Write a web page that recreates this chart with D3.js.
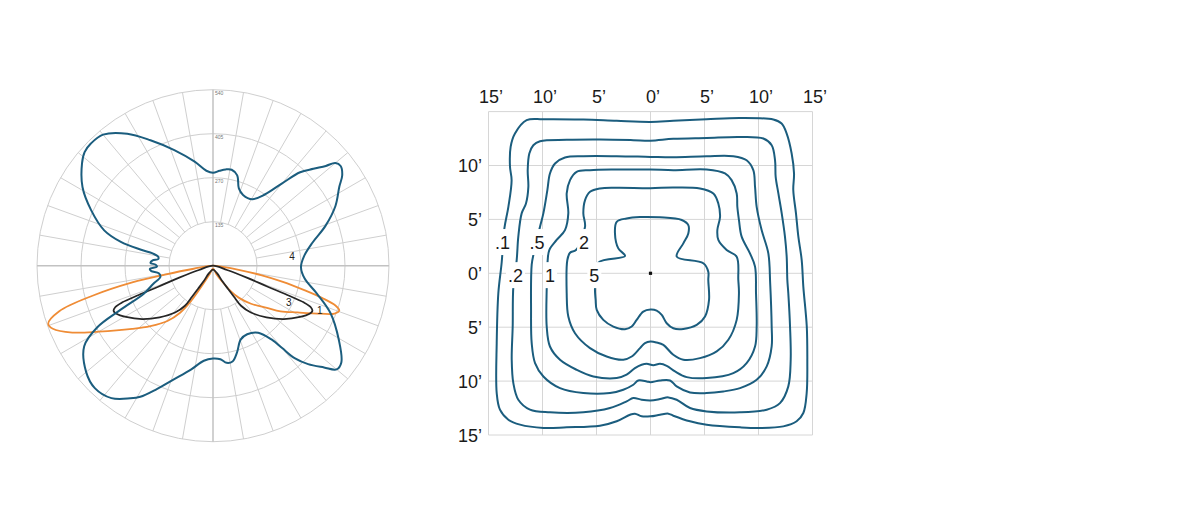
<!DOCTYPE html>
<html><head><meta charset="utf-8">
<script src="https://cdn.jsdelivr.net/npm/d3@7"></script>
<style>html,body{margin:0;padding:0;background:#fff;} svg{display:block;}</style>
</head><body>
<svg id="chart" width="1200" height="532"></svg>
<script>
// ---------- Polar (photometric) data: [angle in degrees clockwise from top, value] ----------
const polarRingValues = [135, 270, 405, 540];
const polarRingLabels = ["135", "270", "405", "540"];
const polarMax = 540;

const curve4 = [ // blue
  [0,285],[4,292],[7.5,298],[11,300],[15,287],[18.5,250],[23,236],[30.5,237],[36,270],[40,330],
  [43,392],[46,428],[48.5,462],[50,490],[52,497],[55,484],[58,457],[64,418],[70.5,366],[77,313],
  [84,281],[91,270],[98,284],[105,330],[112,389],[120.5,448],[127,493],[130,495],[132.5,462],
  [136,420],[138.5,380],[140,330],[141.5,290],[146,248],[153.5,235],[159.5,242],[164.5,276],
  [168.5,300],[172,301],[175.5,288],[180,285],[185.5,293],[192,326],[199,369],[204.5,416],
  [209,460],[212,480],[217.5,512],[224,522],[230,508],[238,466],[242,402],[244.5,315],[248,229],
  [253,192],[258,165],[262,168],[265,190],[267,194],[269,172],[271,176],[272.5,192],[275,186],
  [277,169],[279.5,171],[281.5,189],[282.5,226],[284.5,292],[288,351],[294.5,411],[301,467],
  [308,510],[311.5,526],[315,530],[320,525],[327,483],[333.5,430],[341.5,374],[350,324],[356,292]
];
const curve3 = [ // black
  [0,0],[107,45],[109.5,110],[111,180],[111.5,245],[112,300],[113,326],[114.5,335],[116.5,331],
  [120.5,310],[127,272],[134,228],[141,185],[145,150],[146,115],[147,85],[149,56],[152,26],[180,12],
  [208,26],[211,56],[213,85],[214,115],[215,150],[219,185],[226,228],[233,272],[239.5,310],
  [243.5,331],[245.5,335],[247,326],[248,300],[248.5,245],[249,180],[250.5,110],[253,45]
];
const curve1 = [ // orange
  [0,0],[97,30],[99,80],[101,150],[103,220],[105,290],[106.5,350],[108,395],[109.5,411],[111.5,401],
  [114,362],[119,296],[124,250],[128,210],[135,165],[141,127],[145,96],[150,57],[158,28],[180,9],
  [202,28],[207,53],[210,89],[212,130],[215,176],[219.5,220],[226,267],[232,315],[240,405],
  [244.6,478],[248.5,528],[250.6,536],[253.5,492],[256,381],[258.3,253],[259.5,150],[261,60]
];
const curveNames = ["4", "3", "1"];
const curveNameAt = [[83,244],[115.6,258],[112.5,355]];

// ---------- Isolux data: [x ft, y ft] ----------
const isoTicks = [-15, -10, -5, 0, 5, 10, 15];
const isoTickLabels = ["15\u2019","10\u2019","5\u2019","0\u2019","5\u2019","10\u2019","15\u2019"];
const isoLevels = [".1", ".2", ".5", "1", "2", "5"];
const isoLabelAt = [[-13.7,2.9],[-12.5,-0.17],[-10.5,2.9],[-9.3,-0.17],[-6.15,2.9],[-5.2,-0.17]];

const iso01 = [[-13.78,1.0],[-13.53,4.17],[-13.16,6.17],[-12.86,8.64],[-13.01,9.88],[-12.95,11.73],[-12.55,12.96],[-11.47,14.2],[-9.92,14.29],[-6.22,14.26],[-3.13,14.14],[0,14.04],[2.11,14.14],[5.2,14.29],[8.29,14.41],[11.37,14.26],[12.14,13.89],[12.61,12.96],[13.07,11.11],[13.29,9.26],[13.22,7.72],[13.47,5.56],[13.69,3.4],[14.0,1.23],[14.15,-1.23],[14.47,-4.94],[14.52,-8.02],[14.46,-11.11],[14.15,-12.96],[13.53,-13.73],[12.3,-14.2],[10.14,-14.35],[8.29,-14.29],[5.2,-14.04],[3.66,-13.73],[2.11,-13.21],[1.65,-13.02],[0.88,-13.12],[0,-13.27],[-0.82,-13.27],[-1.44,-13.02],[-1.9,-13.12],[-3.13,-13.73],[-4.68,-14.14],[-7.76,-14.29],[-9.92,-14.35],[-12.08,-14.04],[-13.16,-13.58],[-13.94,-12.65],[-14.24,-11.11],[-14.24,-6.48],[-14.09,-1.85]];
const iso02 = [[-12.39,1.23],[-12.24,3.4],[-11.93,5.56],[-11.53,6.48],[-11.31,8.02],[-11.37,9.57],[-11.22,11.11],[-10.85,11.88],[-10.23,12.25],[-7.76,12.38],[-4.68,12.41],[-1.59,12.35],[0,12.3],[2.11,12.47],[5.2,12.56],[8.29,12.65],[10.45,12.5],[11.22,11.88],[11.53,10.49],[11.59,8.95],[11.84,7.41],[12.15,5.56],[12.45,3.4],[12.61,1.54],[12.67,-0.62],[12.76,-1.85],[12.92,-4.94],[12.98,-8.02],[12.76,-10.49],[11.99,-12.04],[10.76,-12.65],[8.29,-12.9],[5.2,-12.81],[3.66,-12.5],[2.42,-11.73],[1.65,-11.51],[0.88,-11.67],[0,-11.8],[-0.82,-11.73],[-1.59,-11.57],[-2.21,-11.88],[-3.75,-12.5],[-6.22,-12.9],[-9.31,-12.9],[-11.16,-12.65],[-12.24,-11.73],[-12.7,-10.19],[-12.85,-8.02],[-12.76,-4.94],[-12.7,-1.23]];
const iso05 = [[-10.8,1.9],[-10.23,4.32],[-9.92,5.56],[-9.55,7.72],[-9.31,9.26],[-8.84,10.19],[-7.92,10.74],[-6.22,10.86],[-3.13,10.86],[0,10.8],[2.11,10.77],[5.2,10.86],[7.67,10.86],[8.9,10.49],[9.52,9.57],[9.68,8.02],[9.83,6.17],[10.29,4.01],[10.91,1.85],[11.08,-0.9],[11.22,-4.94],[11.22,-6.79],[10.76,-8.64],[9.83,-9.88],[8.29,-10.65],[6.74,-10.96],[5.2,-11.11],[3.66,-11.05],[2.42,-10.49],[1.81,-9.94],[0.88,-9.94],[0,-10.1],[-0.35,-10.03],[-1.13,-9.94],[-1.59,-10.34],[-2.52,-10.8],[-3.75,-11.11],[-6.22,-11.11],[-8.38,-10.65],[-9.92,-9.57],[-10.69,-8.33],[-11.0,-6.48],[-11.06,-3.4],[-11.0,0.8]];
const iso1 = [[-9.52,1.23],[-9.37,2.16],[-8.69,3.09],[-7.92,4.01],[-7.61,5.56],[-7.76,7.41],[-7.45,8.64],[-6.84,9.41],[-5.6,9.57],[-3.13,9.63],[0,9.63],[2.11,9.57],[5.2,9.63],[6.9,9.26],[7.51,8.64],[7.98,7.41],[8.04,6.17],[8.19,4.94],[8.44,3.4],[9.21,1.85],[9.68,0.62],[9.77,-1.85],[9.83,-4.94],[9.68,-6.79],[8.9,-8.33],[7.67,-9.26],[5.2,-9.72],[3.35,-9.63],[2.27,-9.1],[1.5,-8.58],[0.88,-8.4],[0.26,-8.52],[-0.35,-8.4],[-0.82,-8.49],[-1.44,-8.8],[-2.21,-9.41],[-3.13,-9.72],[-5.29,-9.57],[-6.84,-8.95],[-8.38,-8.02],[-9.31,-6.79],[-9.61,-4.94],[-9.61,-1.39]];
const iso2 = [[-6.9,2.16],[-6.06,4.32],[-6.22,5.56],[-6.06,6.79],[-5.6,7.56],[-4.68,7.87],[-3.13,7.93],[0,7.9],[2.11,7.96],[4.58,7.87],[5.82,7.41],[6.28,6.48],[6.44,5.25],[6.19,4.01],[6.28,3.09],[7.05,2.16],[7.98,1.54],[8.13,-0.62],[8.19,-1.85],[7.98,-4.32],[7.21,-6.17],[6.13,-7.25],[4.58,-7.87],[3.04,-8.02],[2.11,-7.56],[1.19,-6.64],[0.57,-6.42],[0,-6.33],[-0.51,-6.48],[-0.97,-6.94],[-1.74,-7.72],[-2.52,-8.02],[-4.06,-7.72],[-5.6,-6.94],[-6.99,-5.56],[-7.61,-4.01],[-7.76,-1.85],[-7.7,1.23],[-7.45,1.91]];
const iso5 = [[-4.83,0.99],[-2.36,1.6],[-2.98,2.31],[-3.29,3.7],[-3.13,4.78],[-2.21,5.09],[-0.97,5.22],[0.88,5.19],[2.89,4.94],[3.5,4.47],[3.5,3.7],[3.04,2.78],[2.43,1.54],[4.89,0.93],[5.35,0.15],[5.35,-0.62],[5.42,-2.47],[5.05,-4.01],[4.28,-4.79],[3.04,-5.16],[2.11,-5.1],[1.5,-4.63],[1.04,-3.86],[0.57,-3.46],[0,-3.36],[-0.67,-3.55],[-1.28,-4.32],[-1.74,-4.94],[-2.36,-5.19],[-3.44,-4.94],[-4.37,-4.32],[-4.98,-3.4],[-5.08,-2.47],[-5.14,-1.39]];
const isoContours = [iso01, iso02, iso05, iso1, iso2, iso5];

// ---------- Drawing ----------
const svg = d3.select("#chart");
const FONT = "'Liberation Sans', Arial, Helvetica, sans-serif";
const BLUE = "#1b5d7e", ORANGE = "#ef8c36", BLACK = "#262626", GRID = "#cfcfcf";
const toRad = d => d * Math.PI / 180;

// Polar
const pc = {x: 213, y: 265.7};
const rScale = d3.scaleLinear().domain([0, polarMax]).range([0, 176]);
const gp = svg.append("g").attr("transform", `translate(${pc.x},${pc.y})`);

gp.selectAll("circle.ring").data(polarRingValues).join("circle")
  .attr("r", d => rScale(d)).attr("fill", "none").attr("stroke", GRID).attr("stroke-width", 1);

const spokes = d3.range(0, 360, 10);
gp.selectAll("line.spoke").data(spokes).join("line")
  .attr("x1", d => (d % 90 === 0 ? 0 : rScale(135)) * Math.sin(toRad(d)))
  .attr("y1", d => -(d % 90 === 0 ? 0 : rScale(135)) * Math.cos(toRad(d)))
  .attr("x2", d => rScale(polarMax) * Math.sin(toRad(d)))
  .attr("y2", d => -rScale(polarMax) * Math.cos(toRad(d)))
  .attr("stroke", d => d % 90 === 0 ? "#c2c2c2" : GRID)
  .attr("stroke-width", d => d % 90 === 0 ? 1.5 : 1);

gp.selectAll("text.ring").data(polarRingValues).join("text")
  .attr("x", 2).attr("y", d => -rScale(d) + 5)
  .attr("font-family", FONT).attr("font-size", 5).attr("fill", "#777")
  .text((d, i) => polarRingLabels[i]);

const radial = d3.lineRadial()
  .angle(d => toRad(d[0])).radius(d => rScale(d[1]))
  .curve(d3.curveCatmullRomClosed.alpha(0.5));

gp.append("path").datum(curve1).attr("d", radial).attr("fill", "none")
  .attr("stroke", ORANGE).attr("stroke-width", 1.8).attr("stroke-linejoin", "round");
gp.append("path").datum(curve3).attr("d", radial).attr("fill", "none")
  .attr("stroke", BLACK).attr("stroke-width", 1.8).attr("stroke-linejoin", "round");
gp.append("path").datum(curve4).attr("d", radial).attr("fill", "none")
  .attr("stroke", BLUE).attr("stroke-width", 2).attr("stroke-linejoin", "round");

gp.selectAll("text.cname").data(curveNames).join("text")
  .attr("x", (d, i) => rScale(curveNameAt[i][1]) * Math.sin(toRad(curveNameAt[i][0])))
  .attr("y", (d, i) => -rScale(curveNameAt[i][1]) * Math.cos(toRad(curveNameAt[i][0])) + 3.6)
  .attr("text-anchor", "middle")
  .attr("font-family", FONT).attr("font-size", 10).attr("fill", "#222")
  .text(d => d);

// Isolux
const xS = d3.scaleLinear().domain([-15, 15]).range([488.5, 812.5]);
const yS = d3.scaleLinear().domain([-15, 15]).range([435, 111.6]);
const gi = svg.append("g");

gi.selectAll("line.vx").data(isoTicks).join("line")
  .attr("x1", d => xS(d)).attr("x2", d => xS(d)).attr("y1", yS(15)).attr("y2", yS(-15))
  .attr("stroke", "#d6d6d6").attr("stroke-width", 1);
gi.selectAll("line.hy").data(isoTicks).join("line")
  .attr("y1", d => yS(d)).attr("y2", d => yS(d)).attr("x1", xS(-15)).attr("x2", xS(15))
  .attr("stroke", "#d6d6d6").attr("stroke-width", 1);

gi.selectAll("text.xt").data(isoTicks).join("text")
  .attr("x", d => xS(d) + 2.5).attr("y", 103.3)
  .attr("text-anchor", "middle").attr("font-family", FONT).attr("font-size", 18).attr("fill", "#1a1a1a")
  .text((d, i) => isoTickLabels[i]);
const yTickVals = isoTicks.slice().reverse();
gi.selectAll("text.yt").data(yTickVals.filter(d => d !== 15)).join("text")
  .attr("x", 482).attr("y", d => yS(d) + 6.6)
  .attr("text-anchor", "end").attr("font-family", FONT).attr("font-size", 18).attr("fill", "#1a1a1a")
  .text(d => isoTickLabels[isoTicks.indexOf(Math.abs(d))]);

const contourLine = d3.line().x(d => xS(d[0])).y(d => yS(d[1]))
  .curve(d3.curveCatmullRomClosed.alpha(0.5));
gi.selectAll("path.iso").data(isoContours).join("path")
  .attr("d", contourLine).attr("fill", "none")
  .attr("stroke", BLUE).attr("stroke-width", 2).attr("stroke-linejoin", "round");

isoLevels.forEach((lab, i) => {
  const cx = xS(isoLabelAt[i][0]), cy = yS(isoLabelAt[i][1]);
  const t = gi.append("text").attr("x", cx).attr("y", cy + 6.8)
    .attr("text-anchor", "middle").attr("font-family", FONT).attr("font-size", 18).attr("fill", "#1a1a1a")
    .text(lab);
  const bb = t.node().getBBox();
  gi.insert("rect", () => t.node())
    .attr("x", bb.x - 2).attr("width", bb.width + 4)
    .attr("y", cy - 13).attr("height", 26).attr("fill", "#fff");
});

gi.append("rect").attr("x", xS(0) - 1.6).attr("y", yS(0) - 1.6)
  .attr("width", 3.2).attr("height", 3.2).attr("fill", "#111");
</script>
</body></html>
